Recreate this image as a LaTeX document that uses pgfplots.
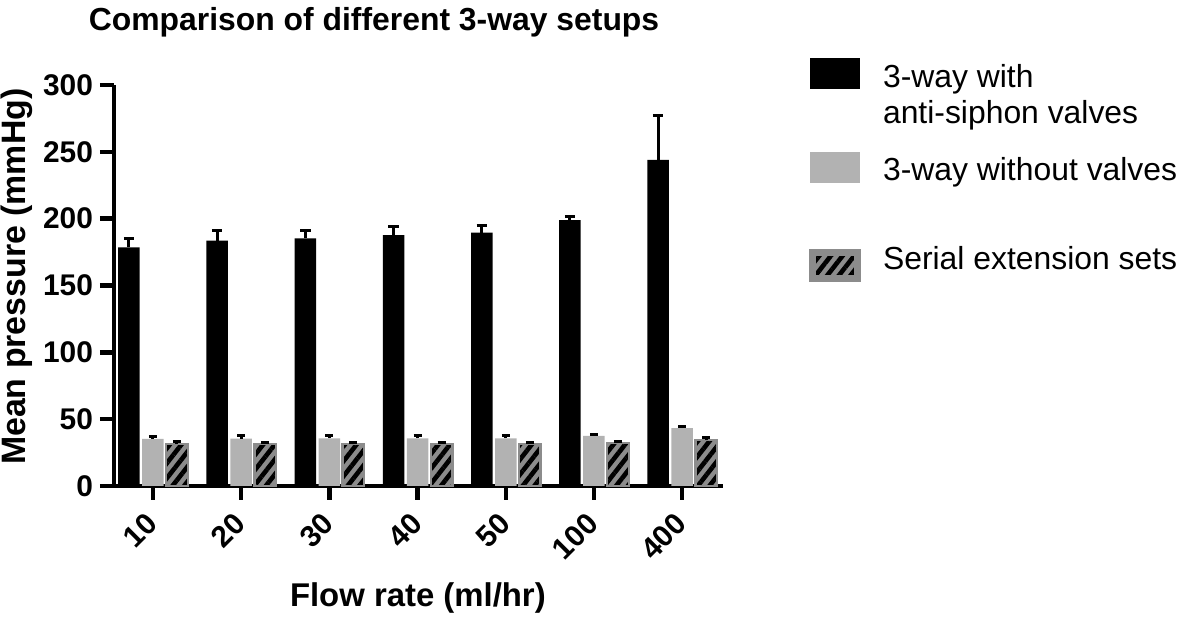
\documentclass[border=0pt]{standalone}
\usepackage{fontspec}
\setmainfont{Liberation Sans}
\usepackage{pgfplots}
\pgfplotsset{compat=1.18}
\usetikzlibrary{patterns.meta}
\definecolor{lgray}{RGB}{178,178,178}
\definecolor{hgray}{RGB}{140,140,140}
\tikzset{hatchfill/.style={pattern={Lines[angle=52,distance=4.6bp,line width=2.3bp]}, pattern color=black},
  hatched/.style={preaction={fill=hgray}, hatchfill, draw=hgray, line width=1.2bp}}
\begin{document}
\begin{tikzpicture}
\begin{axis}[
  scale only axis, width=304.5bp, height=200.5bp,
  xmin=-0.442, xmax=6.463, ymin=0, ymax=300,
  clip=false,
  axis lines=left,
  axis line style={line width=2.2bp, -},
  ytick={0,50,...,300},
  xtick={0,...,6},
  xticklabels={10,20,30,40,50,100,400},
  tick style={line width=2.2bp, black},
  major tick length=7bp,
  tick align=outside,
  /pgf/number format/assume math mode=true,
  tick label style={font=\fontsize{15}{18}\selectfont\bfseries},
  x tick label style={rotate=45, anchor=north east, xshift=-3.5bp, yshift=2.5bp},
  title={Comparison of different 3-way setups},
  every axis title shift=0pt,
  title style={at={(axis description cs:0.427,1.135)}, anchor=base, yshift=0pt, font=\fontsize{16}{19}\selectfont\bfseries},
  xlabel={Flow rate (ml/hr)},
  xlabel style={at={(axis description cs:0.499,-0.279)}, anchor=center, font=\fontsize{16.5}{19}\selectfont\bfseries},
  ylabel={Mean pressure (mmHg)},
  ylabel style={at={(axis description cs:-0.159,0.522)}, anchor=center, font=\fontsize{17}{20}\selectfont\bfseries},
  legend style={at={(axis description cs:1.140,1.0695)}, anchor=north west, draw=none, fill=none, inner sep=0pt,
    /tikz/row sep=8.5bp, /tikz/column sep=11bp,
    font=\fontsize{16}{18.5}\selectfont,
    nodes={text height=12bp, text depth=24bp, inner sep=0pt}},
  legend cell align=left,
  error bars/y dir=plus, error bars/y explicit,
  error bars/error bar style={line width=1.5bp, black},
]
% x positions carry the bar offset within each group (-0.272, 0, +0.272)
\addplot[ybar, bar width=0.244, bar shift=0, fill=black, draw=none,
  error bars/error mark options={rotate=90, line width=1.5bp, black, mark size=2.6bp},
  legend image code/.code={\fill[black] (0bp,5.25bp) rectangle (25bp,20.75bp);}]
coordinates {(-0.272,178.6) +- (0,6.2) (0.728,183.5) +- (0,8) (1.728,185.3) +- (0,6.2) (2.728,187.6) +- (0,6.4)
  (3.728,189.5) +- (0,5.2) (4.728,199) +- (0,2.5) (5.728,244) +- (0,33.5)};
\addlegendentry{\begin{tabular}[t]{@{}l@{}}3-way with\\anti-siphon valves\end{tabular}}

\addplot[ybar, bar width=0.244, bar shift=0, fill=lgray, draw=none,
  error bars/error mark options={rotate=90, line width=1.5bp, black, mark size=2bp},
  legend image code/.code={\fill[lgray] (0bp,4.5bp) rectangle (25bp,20bp);}]
coordinates {(0,35.3) +- (0,2) (1,35.5) +- (0,2) (2,35.7) +- (0,2.2) (3,35.7) +- (0,2)
  (4,35.7) +- (0,2) (5,37.5) +- (0,1.4) (6,43.3) +- (0,1.5)};
\addlegendentry{3-way without valves}

\addplot[ybar, bar width=0.244, bar shift=0, hatched,
  error bars/error mark options={rotate=90, line width=1.5bp, black, mark size=2bp},
  legend image code/.code={\fill[hgray] (0bp,0bp) rectangle (25bp,15.5bp);
    \path[hatchfill] (2.5bp,2.5bp) rectangle (22.5bp,13bp);}]
coordinates {(0.272,31.2) +- (0,1.8) (1.272,31.3) +- (0,1.6) (2.272,31.4) +- (0,1.2) (3.272,31.4) +- (0,1.4)
  (4.272,31.4) +- (0,1.4) (5.272,32) +- (0,1.4) (6.272,34.4) +- (0,1.7)};
\addlegendentry{Serial extension sets}

\coordinate (bbsw) at (axis description cs:-0.1872,-0.3267);
\coordinate (bbne) at (axis description cs:1.7521,1.2120);
\end{axis}
\pgfresetboundingbox
\path[use as bounding box] (bbsw) rectangle (bbne);
\end{tikzpicture}
\end{document}
